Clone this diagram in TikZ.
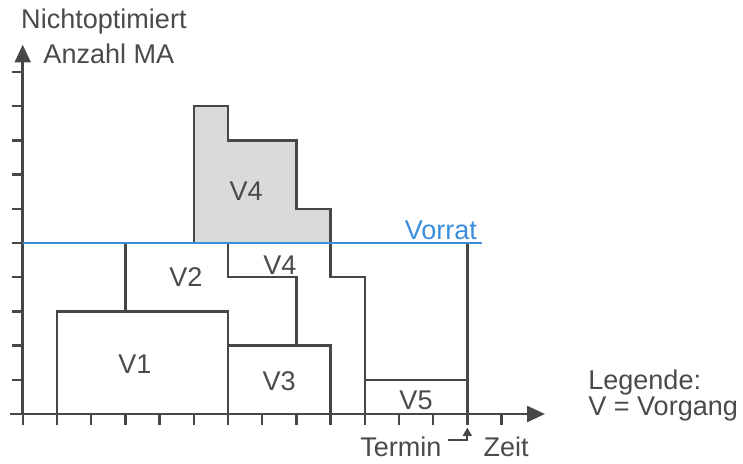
\documentclass[tikz,border=0pt]{standalone}
\usepackage{fontspec}
\setmainfont{Liberation Sans}
\usetikzlibrary{arrows.meta}
\definecolor{line edge}{HTML}{474747}
\definecolor{block area}{HTML}{D9DBD9}
\definecolor{text gray}{HTML}{4A4A4A}
\definecolor{vorrat blue}{HTML}{3A8EDB}
\tikzset{outline/.style={draw=line edge, line width=2pt},
    filled/.style={fill=block area, draw=line edge, line width=2pt},
    axisline/.style={draw=line edge, line width=2.3pt, -{Triangle[length=0.52cm,width=0.46cm]}},
    vtext/.style={text=text gray, font=\fontsize{22.5pt}{27pt}\selectfont, inner sep=0pt}}

\begin{document}
\begin{tikzpicture}
    \useasboundingbox (-0.664,-1.433) rectangle (21.06,12.105);
    % Definition of the overloaded part of V4
    \def\vfourtop{(5,5) -- (5,9) -- (6,9) -- (6,8) -- (8,8) -- (8,6) -- (9,6) -- (9,5)}
    %
    \fill[block area] \vfourtop -- cycle;
    \draw[outline] \vfourtop;
    % Vorgaenge
    \draw[outline] (1,0) rectangle (6,3);
    \draw[outline] (6,0) rectangle (9,2);
    \draw[outline] (3,3) -- (3,5);
    \draw[outline] (6,5) -- (6,4) -- (8,4) -- (8,2);
    \draw[outline] (9,5) -- (9,4) -- (10,4) -- (10,0);
    \draw[outline] (10,1) -- (13,1);
    \draw[outline] (13,0) -- (13,5);
    % Axes and ticks
    \foreach \k in {1,...,10}
        \draw[outline] (-0.32,\k) -- (0,\k);
    \foreach \k in {0,...,14}
        \draw[outline] (\k,0) -- (\k,-0.33);
    \coordinate (origin) at (0,0);
    \coordinate (ytip) at (0,10.8);
    \coordinate (xstart) at (-0.37,0);
    \coordinate (xtip) at (15.27,0);
    \draw[axisline] (origin) -- (ytip);
    \draw[axisline] (xstart) -- (xtip);
    % Vorrat
    \coordinate (vorratstart) at (0,5);
    \coordinate (vorratend) at (13.42,5);
    \draw[draw=vorrat blue, line width=1.8pt] (vorratstart) -- (vorratend);
    \node[vtext, text=vorrat blue, anchor=base east] (vorrat) at (13.29,5.1) {Vorrat};
    % Labels
    \node[vtext] (vfourtoplabel) at (6.53,6.5) {V4};
    \node[vtext] (vtwo) at (4.77,3.99) {V2};
    \node[vtext] (vfour) at (7.52,4.36) {V4};
    \node[vtext] (vone) at (3.28,1.46) {V1};
    \node[vtext] (vthree) at (7.5,0.97) {V3};
    \node[vtext] (vfive) at (11.5,0.41) {V5};
    \node[vtext, anchor=base west] (nichtopt) at (-0.05,11.26) {Nichtoptimiert};
    \node[vtext, anchor=base west] (anzahl) at (0.6,10.25) {Anzahl MA};
    \node[vtext, anchor=base east] (termin) at (12.25,-1.25) {Termin};
    \node[vtext, anchor=base west] (zeit) at (13.47,-1.25) {Zeit};
    \coordinate (terminmark) at (13,-0.4);
    \draw[draw=line edge, line width=1.5pt, -{Triangle[length=0.24cm,width=0.26cm]}]
        ([shift={(0.17,0.49)}]termin.base east) -| (terminmark);
    \node[vtext, anchor=base west] (legende) at (16.53,0.72) {Legende:};
    \node[vtext, anchor=base west] (vorgang) at ([yshift=-0.75cm]legende.base west) {V = Vorgang};
\end{tikzpicture}
\end{document}
